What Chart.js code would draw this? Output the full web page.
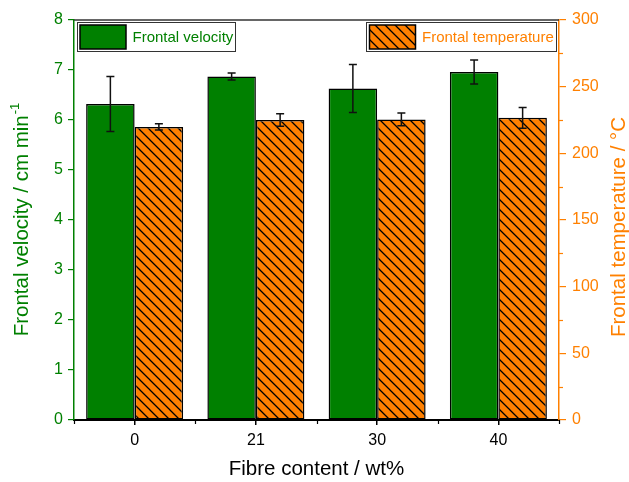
<!DOCTYPE html>
<html><head><meta charset="utf-8">
<script src="https://cdn.jsdelivr.net/npm/chart.js@4/dist/chart.umd.min.js"></script>
<style>html,body{margin:0;padding:0;background:#fff}</style>
</head><body>
<canvas id="c" width="629" height="482" style="display:block;width:629px;height:482px"></canvas>
<script>
const categories = ['0', '21', '30', '40'];
const velocity = [6.32, 6.87, 6.63, 6.96];
const velocityErr = [0.55, 0.07, 0.48, 0.24];
const temperature = [219.8, 225.0, 225.4, 226.6];
const temperatureErr = [2.3, 4.7, 4.8, 7.7];
const leftAxisMax = 8;
const rightAxisMax = 300;

const GREEN = '#008000';
const ORANGE = '#FF8000';
const FONT = "'Liberation Sans', Arial, sans-serif";

function hatch() {
  const s = 10;
  const c = document.createElement('canvas');
  c.width = s; c.height = s;
  const g = c.getContext('2d');
  g.fillStyle = ORANGE; g.fillRect(0, 0, s, s);
  g.strokeStyle = '#000'; g.lineWidth = 1.3;
  g.beginPath();
  g.moveTo(-1, -1); g.lineTo(s + 1, s + 1);
  g.moveTo(-1, s - 1); g.lineTo(1, s + 1);
  g.moveTo(s - 1, -1); g.lineTo(s + 1, 1);
  g.stroke();
  return document.getElementById('c').getContext('2d').createPattern(c, 'repeat');
}
const hatchPattern = hatch();

const errorBars = {
  id: 'errorBars',
  afterDatasetsDraw(chart) {
    const ctx = chart.ctx;
    chart.data.datasets.forEach((ds, i) => {
      const meta = chart.getDatasetMeta(i);
      const ys = chart.scales[meta.yAxisID];
      meta.data.forEach((bar, j) => {
        const v = ds.data[j], e = ds.errors[j];
        const yt = ys.getPixelForValue(v + e), yb = ys.getPixelForValue(v - e);
        const x = bar.x;
        ctx.save();
        ctx.strokeStyle = '#111'; ctx.lineWidth = 1.5;
        ctx.beginPath();
        ctx.moveTo(x, yt); ctx.lineTo(x, yb);
        ctx.moveTo(x - 4, yt); ctx.lineTo(x + 4, yt);
        ctx.moveTo(x - 4, yb); ctx.lineTo(x + 4, yb);
        ctx.stroke();
        ctx.restore();
      });
    });
  }
};

const decorations = {
  id: 'decorations',
  afterDraw(chart) {
    const ctx = chart.ctx;
    const a = chart.chartArea;
    ctx.save();
    // top frame line
    ctx.strokeStyle = '#333'; ctx.lineWidth = 1.5;
    ctx.beginPath(); ctx.moveTo(a.left, a.top); ctx.lineTo(a.right, a.top); ctx.stroke();
    // minor ticks on right axis
    const yr = chart.scales.y1;
    ctx.strokeStyle = ORANGE; ctx.lineWidth = 1.2;
    for (let v = 25; v < rightAxisMax; v += 50) {
      const y = Math.round(yr.getPixelForValue(v)) + 0.5;
      ctx.beginPath(); ctx.moveTo(a.right, y); ctx.lineTo(a.right + 4, y); ctx.stroke();
    }
    // minor ticks on x axis (category boundaries)
    const xs = chart.scales.x;
    ctx.strokeStyle = '#000';
    for (let k = 0; k <= categories.length; k++) {
      const x = Math.round(xs.getPixelForValue(k - 0.5)) + 0.5;
      ctx.beginPath(); ctx.moveTo(x, a.bottom); ctx.lineTo(x, a.bottom + 4); ctx.stroke();
    }
    // legend boxes
    ctx.lineWidth = 1; ctx.strokeStyle = '#333';
    ctx.fillStyle = '#fff';
    const lb = {x: a.left + 3.5, y: a.top + 2.5, w: 158, h: 29};
    ctx.fillRect(lb.x, lb.y, lb.w, lb.h); ctx.strokeRect(lb.x, lb.y, lb.w, lb.h);
    ctx.fillStyle = GREEN; ctx.fillRect(lb.x + 2.5, lb.y + 2.5, 46, 24);
    ctx.strokeStyle = '#000'; ctx.lineWidth = 1.5;
    ctx.strokeRect(lb.x + 2.5, lb.y + 2.5, 46, 24);
    ctx.font = '15px ' + FONT; ctx.textBaseline = 'middle'; ctx.textAlign = 'left';
    ctx.fillStyle = GREEN; ctx.fillText('Frontal velocity', lb.x + 55, lb.y + lb.h / 2 + 1);

    const rb = {x: a.right - 192.5, y: a.top + 2.5, w: 190, h: 29};
    ctx.lineWidth = 1; ctx.strokeStyle = '#333'; ctx.fillStyle = '#fff';
    ctx.fillRect(rb.x, rb.y, rb.w, rb.h); ctx.strokeRect(rb.x, rb.y, rb.w, rb.h);
    ctx.fillStyle = hatchPattern; ctx.fillRect(rb.x + 3, rb.y + 2.5, 46, 24);
    ctx.strokeStyle = '#000'; ctx.lineWidth = 1.5;
    ctx.strokeRect(rb.x + 3, rb.y + 2.5, 46, 24);
    ctx.fillStyle = ORANGE; ctx.fillText('Frontal temperature', rb.x + 55.5, rb.y + rb.h / 2 + 1);

    // left axis title with superscript
    const cy = (a.top + a.bottom) / 2;
    ctx.save();
    ctx.translate(21, cy); ctx.rotate(-Math.PI / 2);
    const main = 'Frontal velocity / cm min', sup = '-1';
    ctx.font = '20.5px ' + FONT;
    const w1 = ctx.measureText(main).width;
    ctx.font = '13px ' + FONT;
    const w2 = ctx.measureText(sup).width;
    const start = -(w1 + w2) / 2;
    ctx.fillStyle = GREEN; ctx.textBaseline = 'alphabetic';
    ctx.font = '20.5px ' + FONT; ctx.fillText(main, start, 7);
    ctx.font = '13px ' + FONT; ctx.fillText(sup, start + w1 + 1, -2);
    ctx.restore();

    // right axis title
    ctx.save();
    ctx.translate(619, cy + 7); ctx.rotate(-Math.PI / 2);
    ctx.font = '20.5px ' + FONT; ctx.fillStyle = ORANGE;
    ctx.textAlign = 'center'; ctx.textBaseline = 'middle';
    ctx.fillText('Frontal temperature / °C', 0, 0);
    ctx.restore();
    ctx.restore();
  }
};

new Chart(document.getElementById('c'), {
  type: 'bar',
  data: {
    labels: categories,
    datasets: [
      {label: 'Frontal velocity', data: velocity, errors: velocityErr, yAxisID: 'y',
       backgroundColor: GREEN, borderColor: '#000', borderWidth: 1.5, borderSkipped: false},
      {label: 'Frontal temperature', data: temperature, errors: temperatureErr, yAxisID: 'y1',
       backgroundColor: hatchPattern, borderColor: '#000', borderWidth: 1.5, borderSkipped: false}
    ]
  },
  options: {
    responsive: false,
    animation: false,
    devicePixelRatio: 1,
    layout: {padding: {top: 20, left: 0, right: 0, bottom: 0}},
    categoryPercentage: 0.8,
    barPercentage: 1.0,
    plugins: {legend: {display: false}, tooltip: {enabled: false}},
    scales: {
      x: {
        type: 'category', offset: true,
        grid: {display: true, drawOnChartArea: false, offset: false, tickLength: 5, color: '#000', lineWidth: 1.5},
        border: {color: '#000', width: 2},
        ticks: {color: '#000', font: {size: 16, family: FONT}, padding: 6},
        title: {display: true, text: 'Fibre content / wt%', color: '#000', font: {size: 20.5, family: FONT}, padding: 0},
        afterFit(s) { s.height = 62; }
      },
      y: {
        position: 'left', min: 0, max: leftAxisMax,
        ticks: {stepSize: 1, color: GREEN, font: {size: 16, family: FONT}, padding: 5},
        grid: {drawOnChartArea: false, tickLength: 6, color: GREEN, lineWidth: 1.2},
        border: {color: GREEN, width: 1.5},
        afterFit(s) { s.width = 74; }
      },
      y1: {
        position: 'right', min: 0, max: rightAxisMax,
        ticks: {stepSize: 50, color: ORANGE, font: {size: 16, family: FONT}, padding: 6},
        grid: {drawOnChartArea: false, tickLength: 7, color: ORANGE, lineWidth: 1.2},
        border: {color: ORANGE, width: 1.5},
        afterFit(s) { s.width = 70; }
      }
    }
  },
  plugins: [errorBars, decorations]
});
</script>
</body></html>
